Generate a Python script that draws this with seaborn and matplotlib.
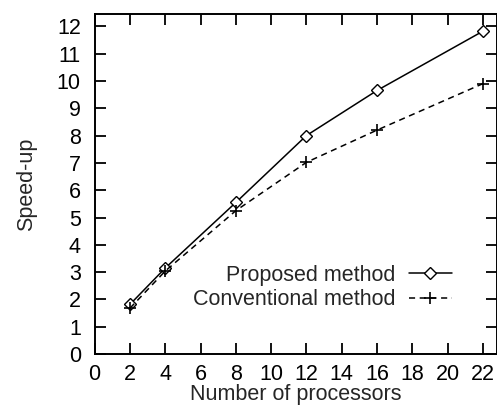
import pandas as pd
import matplotlib
matplotlib.use("Agg")
import matplotlib.pyplot as plt
import seaborn as sns

# values
processors = [2, 4, 8, 12, 16, 22]
proposed = [1.82, 3.15, 5.55, 8.0, 9.65, 11.82]
conventional = [1.68, 3.04, 5.25, 7.02, 8.2, 9.9]

x_ticks = list(range(0, 23, 2))
y_ticks = list(range(0, 13))

df = pd.DataFrame({
    "procs": processors * 2,
    "speedup": proposed + conventional,
    "method": ["Proposed method"] * len(processors) + ["Conventional method"] * len(processors),
})

sns.set_style("ticks")
plt.rcParams["font.family"] = ["Liberation Sans", "DejaVu Sans"]
FS = 15.5

fig = plt.figure(figsize=(4.97, 4.07), dpi=100)
ax = fig.add_axes([0.1905, 0.130, 0.8095, 0.8356])

sns.lineplot(data=df[df.method == "Proposed method"], x="procs", y="speedup",
             ax=ax, color="black", lw=1.1, marker="D", markersize=6.5,
             mfc="white", mec="black", mew=1.0, label="Proposed method")
sns.lineplot(data=df[df.method == "Conventional method"], x="procs", y="speedup",
             ax=ax, color="black", lw=1.1, ls=(0, (4, 3)), marker="+", markersize=9,
             mec="black", mew=1.2, label="Conventional method")

ax.set_xlim(0, 22.8)
ax.set_ylim(0, 12.45)
ax.set_xticks(x_ticks)
ax.set_yticks(y_ticks)
ax.tick_params(direction="in", length=8, width=1.3, top=True, right=True,
               labelsize=FS, colors="black")
ax.tick_params(axis="y", pad=10)
ax.tick_params(axis="x", pad=7)
for s in ax.spines.values():
    s.set_linewidth(1.4)
    s.set_color("black")

ax.set_xlabel("Number of processors", fontsize=FS, labelpad=-0.5)
ax.set_ylabel("Speed-up", fontsize=FS, labelpad=14)

ax.legend(loc="lower right", bbox_to_anchor=(0.925, 0.085), frameon=False,
          markerfirst=False, fontsize=FS, handlelength=2.0, handletextpad=0.6,
          labelspacing=0.15, borderpad=0.2)

fig.savefig("out.png", dpi=100)
